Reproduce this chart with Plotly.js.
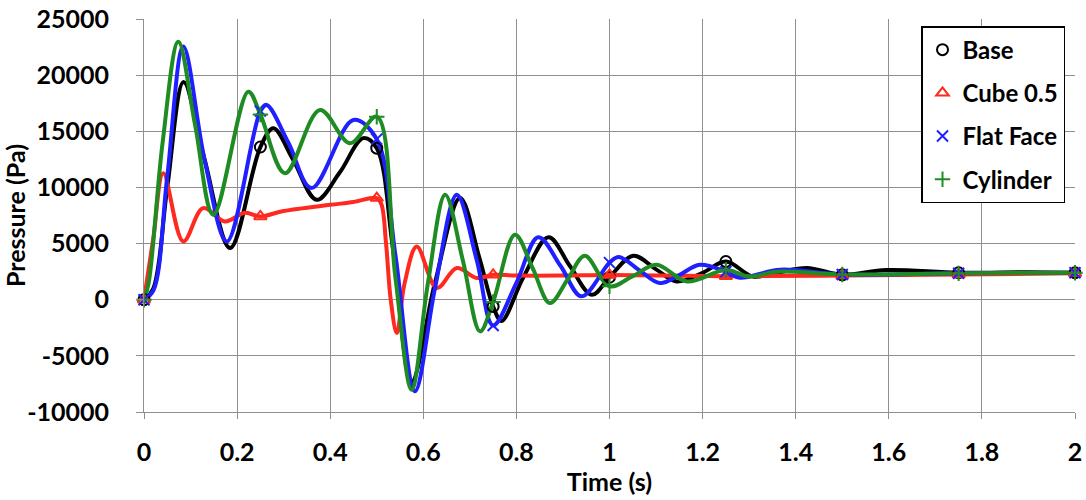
<!DOCTYPE html>
<html><head><meta charset="utf-8">
<script src="https://cdn.plot.ly/plotly-3.0.1.min.js"></script>
<style>html,body{margin:0;padding:0;background:#fff}#chart{width:1086px;height:500px}</style>
</head><body><div id="chart"></div>
<script>
// ---- data ----
const seriesNames = ["Base", "Cube 0.5", "Flat Face", "Cylinder"];

const baseT = [0, 0.02, 0.05, 0.085, 0.13, 0.185, 0.25, 0.278, 0.32, 0.371, 0.42, 0.471, 0.5, 0.535, 0.575, 0.625, 0.679, 0.72, 0.75, 0.768, 0.815, 0.869, 0.915, 0.962, 1.0, 1.051, 1.1, 1.144, 1.2, 1.25, 1.308, 1.36, 1.424, 1.5, 1.595, 1.75, 1.9, 2.0];
const baseP = [0, 1000, 10000, 19400, 12500, 4600, 13600, 15270, 12500, 8900, 11300, 14390, 13500, 4500, -7300, 1500, 9050, 3800, -600, -1900, 2000, 5570, 3000, 440, 2000, 3910, 2700, 1630, 2400, 3400, 2070, 2400, 2820, 2220, 2650, 2400, 2450, 2400];

const cubeT = [0, 0.02, 0.0415, 0.0845, 0.127, 0.174, 0.217, 0.25, 0.3, 0.4, 0.45, 0.5, 0.51, 0.52, 0.53, 0.543, 0.56, 0.586, 0.629, 0.672, 0.715, 0.75, 0.8, 0.9, 1.0, 1.25, 1.5, 1.75, 2.0];
const cubeP = [0, 5500, 11270, 5190, 8160, 6970, 7740, 7420, 7900, 8450, 8700, 9050, 8500, 5000, 0, -2960, 1500, 4740, 1040, 2820, 1930, 2220, 2150, 2150, 2200, 2100, 2150, 2250, 2350];

const flatT = [0, 0.02, 0.05, 0.0845, 0.13, 0.178, 0.25, 0.2635, 0.31, 0.36, 0.4497, 0.5, 0.54, 0.582, 0.625, 0.672, 0.715, 0.75, 0.8, 0.847, 0.895, 0.94, 1.0, 1.02, 1.065, 1.108, 1.15, 1.194, 1.25, 1.28, 1.366, 1.5, 1.75, 2.0];
const flatP = [0, 800, 11000, 22540, 12500, 5190, 16800, 17350, 14000, 9940, 16010, 14300, 4000, -8160, 1000, 9340, 3500, -2300, 1500, 5570, 3000, 300, 3300, 3800, 2600, 1480, 2200, 3110, 2500, 1960, 2670, 2250, 2350, 2400];

const cylT = [0, 0.01, 0.04, 0.0737, 0.11, 0.149, 0.224, 0.25, 0.303, 0.378, 0.4425, 0.5, 0.54, 0.575, 0.61, 0.647, 0.685, 0.722, 0.75, 0.797, 0.835, 0.872, 0.91, 0.947, 1.0, 1.05, 1.101, 1.166, 1.25, 1.3, 1.36, 1.5, 1.75, 2.0];
const cylP = [0, 1500, 14000, 22980, 15500, 7560, 18530, 16500, 11270, 16900, 13940, 16300, 2000, -8010, 1500, 9340, 3500, -2820, -200, 5780, 2800, -300, 1800, 3910, 1200, 2100, 3110, 1630, 2650, 2070, 2500, 2250, 2350, 2400];

const markerTimes = [0, 0.25, 0.5, 0.75, 1.0, 1.25, 1.5, 1.75, 2.0];
const xTickVals = [0, 0.2, 0.4, 0.6, 0.8, 1, 1.2, 1.4, 1.6, 1.8, 2];
const xTickLabels = ["0", "0.2", "0.4", "0.6", "0.8", "1", "1.2", "1.4", "1.6", "1.8", "2"];
const yTickVals = [-10000, -5000, 0, 5000, 10000, 15000, 20000, 25000];
const yTickLabels = ["-10000", "-5000", "0", "5000", "10000", "15000", "20000", "25000"];
const xTitle = "Time (s)";
const yTitle = "Pressure (Pa)";

// ---- styling ----
const colors = ["#000000", "#ff2a1f", "#1f1fff", "#1e8c23"];
const symbols = ["circle-open", "triangle-up-open", "x-thin-open", "cross-thin-open"];
const allT = [baseT, cubeT, flatT, cylT];
const allP = [baseP, cubeP, flatP, cylP];
const FONT = "Lato, 'Open Sans', sans-serif";

const traces = [];
allT.forEach((t, i) => {
  traces.push({
    x: t, y: allP[i], type: "scatter", mode: "lines",
    line: {color: colors[i], width: 4, shape: "spline", smoothing: 1},
    showlegend: false, hoverinfo: "skip", cliponaxis: false
  });
});
allT.forEach((t, i) => {
  const mx = [], my = [];
  markerTimes.forEach(m => {
    const k = t.findIndex(v => Math.abs(v - m) < 1e-9);
    if (k >= 0) { mx.push(t[k]); my.push(allP[i][k]); }
  });
  traces.push({
    x: mx, y: my, type: "scatter", mode: "markers", name: seriesNames[i],
    legendgroup: "g" + i,
    marker: {symbol: symbols[i], size: 11, color: colors[i], line: {color: colors[i], width: 2}},
    cliponaxis: false
  });
});

const axisFont = {family: FONT, size: 25, color: "#000", weight: "bold"};
const layout = {
  width: 1086, height: 500,
  paper_bgcolor: "#ffffff", plot_bgcolor: "#ffffff",
  margin: {l: 144, r: 11, t: 19, b: 88, pad: 0},
  showlegend: true,
  legend: {
    x: 0.8346, y: 0.982, xanchor: "left", yanchor: "top",
    bordercolor: "#000", borderwidth: 1.5, bgcolor: "#ffffff",
    font: {family: FONT, size: 24, color: "#000", weight: "bold"},
    tracegroupgap: 9, traceorder: "grouped", itemwidth: 30
  },
  xaxis: {
    range: [0, 2], tickvals: xTickVals, ticktext: xTickLabels,
    showgrid: true, gridcolor: "#8f8f8f", gridwidth: 1,
    showline: true, linecolor: "#8f8f8f", linewidth: 1,
    ticks: "outside", ticklen: 6, tickcolor: "#8f8f8f",
    zeroline: false, tickfont: axisFont, ticklabelstandoff: 12,
    title: {text: xTitle, font: axisFont, standoff: 8}
  },
  yaxis: {
    range: [-10000, 25000], tickvals: yTickVals, ticktext: yTickLabels,
    showgrid: true, gridcolor: "#8f8f8f", gridwidth: 1,
    showline: true, linecolor: "#8f8f8f", linewidth: 1,
    ticks: "outside", ticklen: 7, tickcolor: "#8f8f8f",
    zeroline: false, tickfont: axisFont, ticklabelstandoff: 22,
    title: {text: yTitle, font: axisFont, standoff: 4}
  }
};

Plotly.newPlot("chart", traces, layout, {staticPlot: true, displayModeBar: false});
</script>
</body></html>
